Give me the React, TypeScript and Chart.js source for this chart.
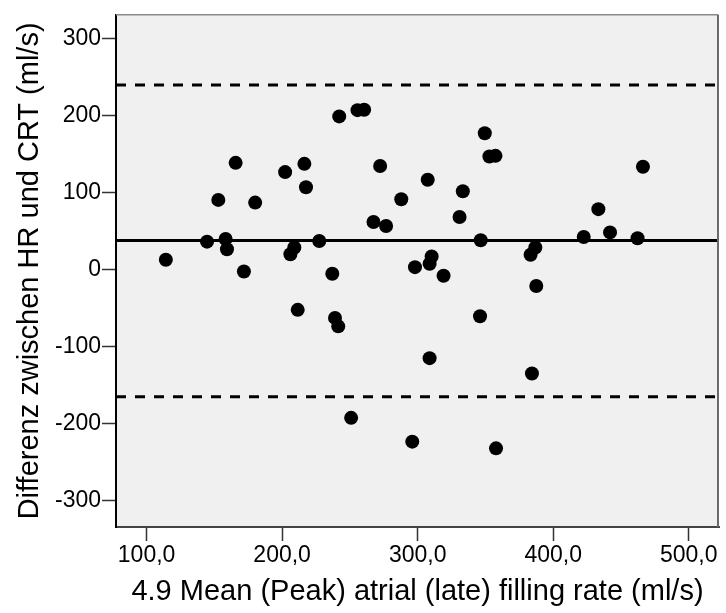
import React, { useEffect, useRef } from "react";
import { Chart, registerables } from "chart.js";

Chart.register(...registerables);

// Mean of the two methods (x) and their difference (y)
const meanRate = [
  114.2, 144.6, 158.3, 159.3, 152.9, 165.7, 180.1, 171.8, 202.2, 216.4,
  217.6, 209.0, 206.1, 227.4, 237.0, 242.1, 255.6, 260.5, 272.3, 267.4,
  276.7, 287.9, 349.5, 352.9, 357.4, 307.4, 333.3, 330.9, 346.5, 386.8,
  383.3, 422.5, 433.3, 441.9, 462.2, 466.2, 298.0, 308.8, 310.3, 319.1,
  211.5, 239.0, 241.4, 250.9, 296.0, 387.5, 346.0, 308.8, 384.3, 357.8,
];
const diffRate = [
  12.9, 36.5, 40.0, 26.6, 90.7, 138.8, 87.2, -2.2, 126.8, 137.5,
  107.1, 28.8, 20.1, 37.4, -5.2, 199.1, 207.2, 207.7, 134.6, 61.9,
  56.8, 91.6, 177.2, 147.1, 147.9, 116.9, 101.9, 68.4, 38.2, 28.8,
  19.4, 42.6, 78.7, 48.5, 40.8, 133.7, 3.4, 7.7, 17.2, -7.7,
  -52.1, -62.5, -73.5, -192.3, -223.2, -21.2, -60.3, -114.8, -134.7, -231.9,
];

const biasValue = 38;
const upperLimit = 240;
const lowerLimit = -165;

const xTickValues = [100, 200, 300, 400, 500];
const yTickValues = [-300, -200, -100, 0, 100, 200, 300];
const xRange = [77.43, 522.3];
const yRange = [-334, 331];

const xTitle = "4.9 Mean (Peak) atrial (late) filling rate (ml/s)";
const yTitle = "Differenz zwischen HR und CRT (ml/s)";

const FONT = '"Liberation Sans", Arial, Helvetica, sans-serif';

export default function App() {
  const canvasRef = useRef<HTMLCanvasElement | null>(null);

  useEffect(() => {
    if (!canvasRef.current) return;
    const points = meanRate.map((x, i) => ({ x, y: diffRate[i] }));

    const background = {
      id: "plotBackground",
      beforeDraw(chart: any) {
        const { ctx, chartArea: a } = chart;
        ctx.save();
        ctx.fillStyle = "#f0f0f0";
        ctx.fillRect(a.left, a.top, a.right - a.left, a.bottom - a.top);
        ctx.restore();
      },
    };

    const refLines = {
      id: "refLines",
      beforeDatasetsDraw(chart: any) {
        const { ctx, chartArea: a } = chart;
        const ys = chart.scales.y;
        // frame: top and right
        ctx.save();
        ctx.strokeStyle = "#8a8a8a";
        ctx.lineWidth = 1.5;
        ctx.beginPath();
        ctx.moveTo(a.left, a.top);
        ctx.lineTo(a.right - 1, a.top);
        ctx.stroke();
        ctx.strokeStyle = "#6a6a6a";
        ctx.lineWidth = 2;
        ctx.beginPath();
        ctx.moveTo(a.right - 1, a.top);
        ctx.lineTo(a.right - 1, a.bottom);
        ctx.stroke();
        ctx.restore();

        const draw = (v: number, dash: number[]) => {
          const py = ys.getPixelForValue(v);
          ctx.save();
          ctx.strokeStyle = "#000";
          ctx.lineWidth = 3;
          ctx.setLineDash(dash);
          ctx.beginPath();
          ctx.moveTo(a.left, py);
          ctx.lineTo(a.right - 2, py);
          ctx.stroke();
          ctx.restore();
        };
        draw(upperLimit, [10, 9]);
        draw(biasValue, []);
        draw(lowerLimit, [10, 9]);
      },
    };

    const chart = new Chart(canvasRef.current, {
      type: "scatter",
      data: {
        datasets: [
          {
            data: points,
            backgroundColor: "#000",
            borderColor: "#000",
            borderWidth: 0,
            pointRadius: 7,
            pointHoverRadius: 7,
          },
        ],
      },
      options: {
        animation: false,
        responsive: true,
        maintainAspectRatio: false,
        events: [],
        layout: { padding: { top: 12, right: 5, left: 0, bottom: 0 } },
        plugins: {
          legend: { display: false },
          tooltip: { enabled: false },
        },
        scales: {
          x: {
            type: "linear",
            min: xRange[0],
            max: xRange[1],
            afterBuildTicks(scale: any) {
              scale.ticks = xTickValues.map((v) => ({ value: v }));
            },
            afterFit(scale: any) {
              scale.height = 86;
            },
            grid: {
              drawOnChartArea: false,
              drawTicks: true,
              tickLength: 14,
              tickWidth: 1.5,
              tickColor: "#333",
            },
            border: { display: true, color: "#444", width: 2 },
            ticks: {
              padding: 1,
              color: "#000",
              font: { family: FONT, size: 23 },
              maxRotation: 0,
              callback: (v: any) => Number(v).toFixed(1).replace(".", ","),
            },
            title: {
              display: true,
              text: xTitle,
              color: "#000",
              font: { family: FONT, size: 29 },
              padding: { top: 0, bottom: 4 },
            },
          },
          y: {
            type: "linear",
            min: yRange[0],
            max: yRange[1],
            afterBuildTicks(scale: any) {
              scale.ticks = yTickValues.map((v) => ({ value: v }));
            },
            afterFit(scale: any) {
              scale.width = 116;
            },
            grid: {
              drawOnChartArea: false,
              drawTicks: true,
              tickLength: 14,
              tickWidth: 1.5,
              tickColor: "#333",
            },
            border: { display: true, color: "#000", width: 2 },
            ticks: {
              padding: 1,
              color: "#000",
              font: { family: FONT, size: 23 },
              callback: (v: any) => String(v),
            },
            title: {
              display: true,
              text: yTitle,
              color: "#000",
              font: { family: FONT, size: 29 },
              padding: { top: 13, bottom: 0 },
            },
          },
        },
      },
      plugins: [background, refLines],
    });

    return () => chart.destroy();
  }, []);

  return (
    <div
      style={{
        position: "absolute",
        left: 0,
        top: 0,
        width: 726,
        height: 613,
        background: "#fff",
      }}
    >
      <canvas ref={canvasRef} />
    </div>
  );
}
